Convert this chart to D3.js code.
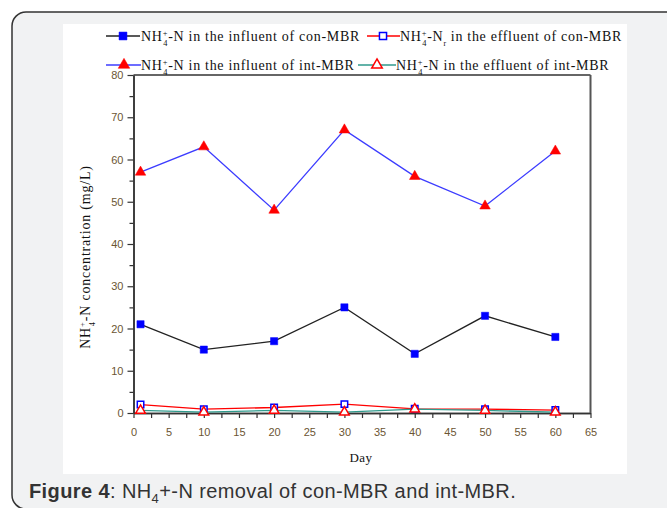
<!DOCTYPE html>
<html>
<head>
<meta charset="utf-8">
<script src="https://cdn.jsdelivr.net/npm/d3@7"></script>
<style>
  body { margin: 0; background: #fff; }
  svg { display: block; }
</style>
</head>
<body>
<div id="chart"></div>
<script>
// Data
const days = [1, 10, 20, 30, 40, 50, 60];
const influentCon = [21, 15, 17, 25, 14, 23, 18];
const effluentCon = [2.0, 0.9, 1.3, 2.1, 1.0, 0.9, 0.7];
const influentInt = [57, 63, 48, 67, 56, 49, 62];
const effluentInt = [0.6, 0.2, 0.6, 0.2, 0.9, 0.6, 0.2];

const xTicks = d3.range(0, 66, 5);
const xMinor = d3.range(2.5, 65, 5);
const yTicks = d3.range(0, 81, 10);
const yMinor = d3.range(5, 80, 10);

const seriesNames = [
    " in the influent of con-MBR",
    " in the effluent of con-MBR",
    " in the influent of int-MBR",
    " in the effluent of int-MBR"
];

const W = 667, H = 508;
const svg = d3.select("#chart").append("svg")
    .attr("width", W)
    .attr("height", H);

// page panel + white figure area
svg.append("rect")
    .attr("x", 12).attr("y", 12)
    .attr("width", 720).attr("height", 497)
    .attr("rx", 14)
    .attr("fill", "#f1f2f3")
    .attr("stroke", "#333")
    .attr("stroke-width", 1.5);

svg.append("rect")
    .attr("x", 63).attr("y", 24)
    .attr("width", 564).attr("height", 450)
    .attr("fill", "#fff");

// scales
const x = d3.scaleLinear().domain([0, 65]).range([133.5, 590.5]);
const y = d3.scaleLinear().domain([0, 80]).range([413, 75]);

const tickColor = "#6b5533";

function styleAxis(g) {
    g.select(".domain").attr("stroke", "#333").attr("stroke-width", 1.5);
    g.selectAll(".tick line").attr("stroke", "#333").attr("stroke-width", 1.2);
    g.selectAll(".tick text")
        .attr("fill", tickColor)
        .attr("font-family", "'Liberation Sans', Arial, sans-serif")
        .attr("font-size", "11px");
}

// minor ticks
svg.append("g")
    .attr("transform", `translate(0,${y(0)})`)
    .call(d3.axisBottom(x).tickValues(xMinor).tickSize(5).tickSizeOuter(0).tickFormat(""))
    .call(styleAxis);

svg.append("g")
    .attr("transform", `translate(${x(0)},0)`)
    .call(d3.axisLeft(y).tickValues(yMinor).tickSize(4).tickSizeOuter(0).tickFormat(""))
    .call(styleAxis);

// major ticks
svg.append("g")
    .attr("transform", `translate(0,${y(0)})`)
    .call(d3.axisBottom(x).tickValues(xTicks).tickSize(5).tickSizeOuter(0).tickPadding(10))
    .call(styleAxis);

svg.append("g")
    .attr("transform", `translate(${x(0)},0)`)
    .call(d3.axisLeft(y).tickValues(yTicks).tickSize(6).tickSizeOuter(0).tickPadding(4))
    .call(styleAxis);

// frame (top + right)
svg.append("line")
    .attr("x1", x(0)).attr("x2", x(65))
    .attr("y1", y(80)).attr("y2", y(80))
    .attr("stroke", "#333").attr("stroke-width", 1.5);
svg.append("line")
    .attr("x1", x(65)).attr("x2", x(65))
    .attr("y1", y(80)).attr("y2", y(0))
    .attr("stroke", "#555").attr("stroke-width", 2);

// series
const series = [
    { values: influentCon, line: "#222", symbol: d3.symbolSquare, size: 52, fill: "#0000ff", stroke: "#0000ff" },
    { values: effluentCon, line: "#ff0000", symbol: d3.symbolSquare, size: 42, fill: "#fff", stroke: "#0000ff" },
    { values: influentInt, line: "#3c3cff", symbol: d3.symbolTriangle, size: 48, fill: "#ff0000", stroke: "#ff0000" },
    { values: effluentInt, line: "#2f9a8c", symbol: d3.symbolTriangle, size: 40, fill: "#fff", stroke: "#ff0000" }
];

const lineGen = d3.line()
    .x((d, i) => x(days[i]))
    .y(d => y(d));

series.forEach(s => {
    svg.append("path")
        .datum(s.values)
        .attr("d", lineGen)
        .attr("fill", "none")
        .attr("stroke", s.line)
        .attr("stroke-width", 1.3);
});

series.forEach(s => {
    svg.selectAll(null)
        .data(s.values)
        .join("path")
        .attr("transform", (d, i) => `translate(${x(days[i])},${y(d)})`)
        .attr("d", d3.symbol().type(s.symbol).size(s.size))
        .attr("fill", s.fill)
        .attr("stroke", s.stroke)
        .attr("stroke-width", s.fill === "#fff" ? 1.5 : 0.5);
});

// NH4+-N rich label
const serif = "'Liberation Serif', 'Times New Roman', serif";

function nh4Text(parent, px, py, size, tail, subR) {
    const t = parent.append("text")
        .attr("x", px).attr("y", py)
        .attr("font-family", serif)
        .attr("font-size", size + "px")
        .attr("fill", "#111");
    t.append("tspan").text("NH");
    t.append("tspan").attr("font-size", (size * 0.6) + "px").attr("dy", -size * 0.38).text("+");
    t.append("tspan").attr("font-size", (size * 0.6) + "px").attr("dx", -size * 0.34).attr("dy", size * 0.72).text("4");
    t.append("tspan").attr("dy", -size * 0.34).text("-N");
    if (subR) {
        t.append("tspan").attr("font-size", (size * 0.55) + "px").attr("dy", size * 0.35).text("r");
        t.append("tspan").attr("dy", -size * 0.35).text(tail);
    } else {
        t.append("tspan").text(tail);
    }
    return t;
}

// legend
const legendPos = [
    { x1: 106, x2: 140, mx: 123, y: 36, tx: 141 },
    { x1: 367, x2: 400, mx: 383, y: 36, tx: 400 },
    { x1: 106, x2: 141, mx: 124, y: 65, tx: 141 },
    { x1: 358, x2: 396, mx: 377, y: 65, tx: 396 }
];

series.forEach((s, i) => {
    const p = legendPos[i];
    svg.append("line")
        .attr("x1", p.x1).attr("x2", p.x2)
        .attr("y1", p.y).attr("y2", p.y)
        .attr("stroke", s.line).attr("stroke-width", 1.5);
    svg.append("path")
        .attr("transform", `translate(${p.mx},${p.y})`)
        .attr("d", d3.symbol().type(s.symbol).size(s.size * 1.2))
        .attr("fill", s.fill)
        .attr("stroke", s.stroke)
        .attr("stroke-width", s.fill === "#fff" ? 1.5 : 0.5);
    nh4Text(svg, p.tx, p.y + 5, 14, seriesNames[i], i === 1)
        .attr("letter-spacing", "0.7px");
});

// axis titles
svg.append("text")
    .attr("x", 361).attr("y", 462)
    .attr("text-anchor", "middle")
    .attr("font-family", serif)
    .attr("font-size", "13px")
    .attr("fill", "#111")
    .attr("letter-spacing", "0.5px")
    .text("Day");

const yl = svg.append("g").attr("transform", "translate(90,257) rotate(-90)");
nh4Text(yl, 0, 0, 14, " concentration (mg/L)", false)
    .attr("text-anchor", "middle")
    .attr("letter-spacing", "0.8px");

// caption
const cap = svg.append("text")
    .attr("x", 29).attr("y", 498)
    .attr("font-family", "'Liberation Sans', Arial, sans-serif")
    .attr("font-size", "20px")
    .attr("letter-spacing", "0.4px")
    .attr("fill", "#333");
cap.append("tspan").attr("font-weight", "bold").text("Figure 4");
cap.append("tspan").text(": NH");
cap.append("tspan").attr("font-size", "13px").attr("dy", 5).text("4");
cap.append("tspan").attr("dy", -5).text("+-N removal of con-MBR and int-MBR.");
</script>
</body>
</html>
